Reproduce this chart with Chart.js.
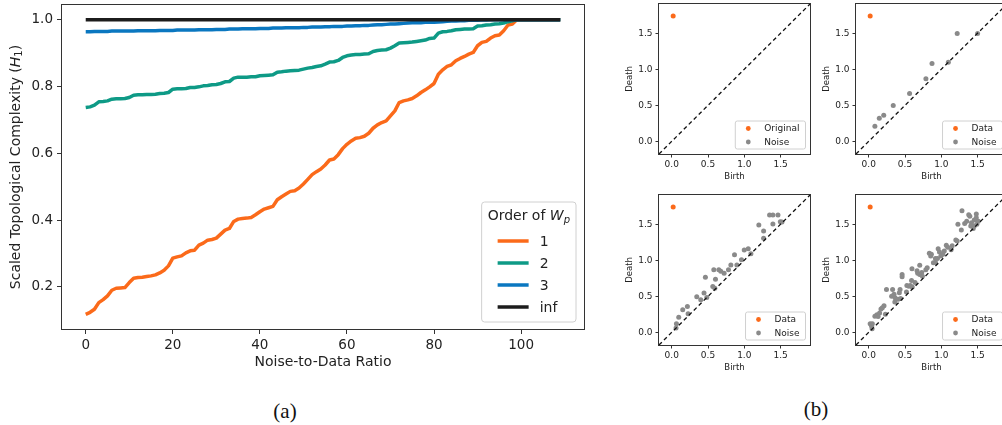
<!DOCTYPE html>
<html>
<head>
<meta charset="utf-8">
<script src="https://cdn.jsdelivr.net/npm/chart.js@4.4.1/dist/chart.umd.min.js"></script>
<style>
  html, body { margin: 0; padding: 0; background: #fff; width: 1002px; height: 425px; overflow: hidden; position: relative; }
  canvas { position: absolute; }
  .cap { position: absolute; font-family: "Liberation Serif", "DejaVu Serif", serif; font-size: 21px; color: #111; transform: translate(-50%, -50%); }
</style>
</head>
<body>
<canvas id="chartMain" width="600" height="375" style="left:0;top:0"></canvas>
<canvas id="pd1" width="195" height="184" style="left:619px;top:0"></canvas>
<canvas id="pd2" width="195" height="184" style="left:816px;top:0"></canvas>
<canvas id="pd3" width="195" height="184" style="left:619px;top:191px"></canvas>
<canvas id="pd4" width="195" height="184" style="left:816px;top:191px"></canvas>
<div class="cap" style="left:285px;top:411px">(a)</div>
<div class="cap" style="left:816px;top:409px">(b)</div>

<script>
// ── colours / fonts ───────────────────────────────────────
const COLORS = {
  w1:    '#fb6a1a',
  w2:    '#0e9a86',
  w3:    '#0a77c0',
  inf:   '#1c1c1c',
  noise: '#8a8a8a',
  frame: '#333333',
  text:  '#222222',
};
const FONT = '"DejaVu Sans", sans-serif';

// ── panel (a) data: scaled complexity vs noise-to-data ratio ──
const ORDER_LABELS = ['1', '2', '3', 'inf'];
const RATIO_TICKS = [0, 20, 40, 60, 80, 100];
const COMPLEXITY_TICKS = [0.2, 0.4, 0.6, 0.8, 1.0];

const W1 = [
  0.118, 0.124, 0.133, 0.153, 0.162, 0.173, 0.190, 0.196, 0.197, 0.198,
  0.213, 0.226, 0.228, 0.229, 0.231, 0.233, 0.236, 0.242, 0.250, 0.263,
  0.286, 0.290, 0.293, 0.302, 0.308, 0.310, 0.325, 0.331, 0.340, 0.342,
  0.346, 0.358, 0.370, 0.375, 0.396, 0.403, 0.405, 0.406, 0.408, 0.416,
  0.425, 0.433, 0.437, 0.441, 0.461, 0.470, 0.478, 0.486, 0.488, 0.496,
  0.508, 0.522, 0.536, 0.545, 0.553, 0.565, 0.580, 0.583, 0.596, 0.614,
  0.627, 0.637, 0.645, 0.647, 0.651, 0.660, 0.675, 0.685, 0.692, 0.697,
  0.712, 0.727, 0.752, 0.757, 0.760, 0.764, 0.772, 0.782, 0.790, 0.799,
  0.809, 0.837, 0.850, 0.860, 0.865, 0.877, 0.884, 0.890, 0.897, 0.902,
  0.922, 0.932, 0.935, 0.945, 0.952, 0.954, 0.967, 0.984, 0.987, 1.000,
  1, 1, 1, 1, 1, 1, 1, 1, 1, 1,
];
const W2 = [
  0.737, 0.739, 0.744, 0.754, 0.755, 0.757, 0.762, 0.763, 0.763, 0.764,
  0.767, 0.774, 0.775, 0.775, 0.776, 0.776, 0.777, 0.779, 0.780, 0.782,
  0.792, 0.793, 0.793, 0.794, 0.797, 0.797, 0.799, 0.802, 0.803, 0.805,
  0.806, 0.809, 0.814, 0.815, 0.825, 0.828, 0.828, 0.828, 0.829, 0.829,
  0.832, 0.833, 0.834, 0.835, 0.843, 0.844, 0.846, 0.847, 0.848, 0.849,
  0.852, 0.855, 0.857, 0.860, 0.862, 0.867, 0.873, 0.874, 0.878, 0.887,
  0.892, 0.894, 0.896, 0.896, 0.897, 0.898, 0.905, 0.908, 0.909, 0.910,
  0.915, 0.922, 0.930, 0.931, 0.932, 0.933, 0.935, 0.937, 0.939, 0.944,
  0.945, 0.960, 0.964, 0.965, 0.967, 0.970, 0.971, 0.972, 0.972, 0.973,
  0.981, 0.982, 0.984, 0.985, 0.987, 0.988, 0.990, 0.994, 0.997, 1.000,
  1, 1, 1, 1, 1, 1, 1, 1, 1, 1,
];
const W3 = [
  0.964, 0.964, 0.965, 0.965, 0.965, 0.965, 0.966, 0.966, 0.966, 0.966,
  0.966, 0.966, 0.967, 0.967, 0.967, 0.967, 0.967, 0.968, 0.968, 0.968,
  0.968, 0.969, 0.969, 0.969, 0.969, 0.969, 0.970, 0.970, 0.970, 0.970,
  0.971, 0.971, 0.971, 0.972, 0.972, 0.972, 0.973, 0.973, 0.973, 0.973,
  0.974, 0.974, 0.974, 0.975, 0.975, 0.975, 0.976, 0.976, 0.976, 0.976,
  0.977, 0.977, 0.978, 0.978, 0.978, 0.979, 0.979, 0.980, 0.980, 0.980,
  0.981, 0.981, 0.982, 0.982, 0.983, 0.983, 0.984, 0.985, 0.985, 0.986,
  0.987, 0.987, 0.988, 0.989, 0.990, 0.991, 0.991, 0.991, 0.992, 0.992,
  0.992, 0.993, 0.994, 0.995, 0.996, 0.996, 0.997, 0.997, 0.998, 0.998,
  0.998, 0.999, 0.999, 1.000, 1.000, 1.000, 1.000, 1.000, 1.000, 1.000,
  1, 1, 1, 1, 1, 1, 1, 1, 1, 1,
];
const WINF = [
  1, 1, 1, 1, 1, 1, 1, 1, 1, 1,
  1, 1, 1, 1, 1, 1, 1, 1, 1, 1,
  1, 1, 1, 1, 1, 1, 1, 1, 1, 1,
  1, 1, 1, 1, 1, 1, 1, 1, 1, 1,
  1, 1, 1, 1, 1, 1, 1, 1, 1, 1,
  1, 1, 1, 1, 1, 1, 1, 1, 1, 1,
  1, 1, 1, 1, 1, 1, 1, 1, 1, 1,
  1, 1, 1, 1, 1, 1, 1, 1, 1, 1,
  1, 1, 1, 1, 1, 1, 1, 1, 1, 1,
  1, 1, 1, 1, 1, 1, 1, 1, 1, 1,
  1, 1, 1, 1, 1, 1, 1, 1, 1, 1,
];

// ── panel (b) data: persistence diagrams ──────────────────
const DIAG_TICKS = [0, 0.5, 1.0, 1.5];
const DIAG_RANGE = [-0.175, 1.905];
const ORIG_BIRTH = [0.02];
const ORIG_DEATH = [1.74];

const NOISE1_BIRTH = [];
const NOISE1_DEATH = [];

const NOISE2_BIRTH = [0.085, 0.146, 0.207, 0.338, 0.563, 0.788, 0.872, 1.097, 1.219, 1.500];
const NOISE2_DEATH = [0.210, 0.320, 0.364, 0.498, 0.665, 0.867, 1.080, 1.098, 1.496, 1.496];

const NOISE3_BIRTH = [
  0.06, 0.065, 0.097, 0.152, 0.216, 0.226, 0.345, 0.40, 0.445, 0.464,
  0.483, 0.566, 0.58, 0.603, 0.594, 0.649, 0.676, 0.722, 0.782, 0.815,
  0.865, 0.898, 0.961, 0.999, 1.054, 1.091, 1.2, 1.266, 1.266, 1.348,
  1.394, 1.394, 1.464, 1.496, 1.519,
];
const NOISE3_DEATH = [
  0.06, 0.12, 0.21, 0.314, 0.36, 0.259, 0.494, 0.452, 0.545, 0.766,
  0.485, 0.636, 0.867, 0.738, 0.613, 0.867, 0.849, 0.82, 0.867, 0.936,
  1.075, 0.936, 1.006, 1.144, 1.158, 1.09, 1.49, 1.406, 1.305, 1.628,
  1.628, 1.503, 1.628, 1.535, 1.53,
];

const NOISE4_BIRTH = [
  0.02, 0.04, 0.05, 0.047, 0.085, 0.113, 0.15, 0.169, 0.211, 0.188,
  0.23, 0.245, 0.329, 0.316, 0.363, 0.349, 0.422, 0.432, 0.404, 0.44,
  0.46, 0.46, 0.526, 0.554, 0.573, 0.596, 0.59, 0.60, 0.638, 0.666,
  0.675, 0.703, 0.703, 0.731, 0.787, 0.806, 0.835, 0.863, 0.854, 0.891,
  0.919, 0.947, 0.957, 0.975, 0.994, 1.022, 1.041, 1.069, 1.088, 1.135,
  1.219, 1.229, 1.276, 1.285, 1.322, 1.35, 1.378, 1.393, 1.416, 1.454,
  1.482, 1.482, 1.49, 1.51, 1.454, 1.406, 1.44, 0.36, 0.52, 0.74,
  0.92, 1.15, 1.2, 0.13,
];
const NOISE4_DEATH = [
  0.12, 0.084, 0.12, 0.05, 0.223, 0.246, 0.27, 0.325, 0.37, 0.34,
  0.25, 0.595, 0.595, 0.502, 0.48, 0.53, 0.548, 0.595, 0.46, 0.47,
  0.804, 0.77, 0.65, 0.64, 0.65, 0.883, 0.72, 0.63, 0.69, 0.855,
  0.82, 0.93, 0.804, 0.83, 0.87, 0.895, 1.096, 1.082, 1.06, 0.967,
  1.023, 1.023, 1.161, 1.115, 1.06, 1.082, 1.13, 1.208, 1.18, 1.147,
  1.268, 1.5, 1.42, 1.686, 1.51, 1.54, 1.63, 1.61, 1.52, 1.56,
  1.64, 1.59, 1.5, 1.54, 1.475, 1.475, 1.44, 0.42, 0.56, 0.78,
  0.97, 1.2, 1.28, 0.22,
];

// ── helpers ───────────────────────────────────────────────
function toPoints(ys) {
  return ys.map((y, i) => ({ x: i, y }));
}
function pairPoints(xs, ys) {
  return xs.map((x, i) => ({ x, y: ys[i] }));
}
function fixedTicks(values) {
  return scale => { scale.ticks = values.map(v => ({ value: v })); };
}

// draw text made of several runs (italic / subscript) centred on x,y
function drawRich(ctx, parts, x, y, rot) {
  ctx.save();
  ctx.translate(x, y);
  ctx.rotate(rot);
  ctx.fillStyle = COLORS.text;
  ctx.textAlign = 'left';
  ctx.textBaseline = 'middle';
  let w = 0;
  parts.forEach(p => { ctx.font = p.f; p.w = ctx.measureText(p.t).width; w += p.w; });
  let cx = -w / 2;
  parts.forEach(p => { ctx.font = p.f; ctx.fillText(p.t, cx, p.dy); cx += p.w; });
  ctx.restore();
  return w;
}
function measureRich(ctx, parts) {
  ctx.save();
  let w = 0;
  parts.forEach(p => { ctx.font = p.f; w += ctx.measureText(p.t).width; });
  ctx.restore();
  return w;
}
function roundBox(ctx, x, y, w, h, r) {
  ctx.beginPath();
  ctx.moveTo(x + r, y);
  ctx.arcTo(x + w, y, x + w, y + h, r);
  ctx.arcTo(x + w, y + h, x, y + h, r);
  ctx.arcTo(x, y + h, x, y, r);
  ctx.arcTo(x, y, x + w, y, r);
  ctx.closePath();
  ctx.fillStyle = 'rgba(255,255,255,0.85)';
  ctx.fill();
  ctx.strokeStyle = '#d0d0d0';
  ctx.lineWidth = 1;
  ctx.stroke();
}

// matplotlib-like box round the plot area
const framePlugin = {
  id: 'frame',
  afterDatasetsDraw(chart) {
    const { ctx, chartArea: a } = chart;
    ctx.save();
    ctx.strokeStyle = COLORS.frame;
    ctx.lineWidth = 1;
    ctx.strokeRect(Math.round(a.left) - 0.5, Math.round(a.top) - 0.5,
                   Math.round(a.right - a.left) + 1, Math.round(a.bottom - a.top) + 1);
    ctx.restore();
  },
};

// y title with italic H and subscript 1
const yTitlePlugin = {
  id: 'yTitle',
  afterDraw(chart) {
    const { ctx, chartArea: a } = chart;
    drawRich(ctx, [
      { t: 'Scaled Topological Complexity (', f: `14px ${FONT}`, dy: 0 },
      { t: 'H', f: `italic 14px ${FONT}`, dy: 0 },
      { t: '1', f: `10px ${FONT}`, dy: 3 },
      { t: ')', f: `14px ${FONT}`, dy: 0 },
    ], 16, (a.top + a.bottom) / 2, -Math.PI / 2);
  },
};

// legend box "Order of W_p" in lower right
const orderLegend = {
  id: 'orderLegend',
  afterDraw(chart) {
    const { ctx, chartArea: a } = chart;
    const title = [
      { t: 'Order of ', f: `14px ${FONT}`, dy: 0 },
      { t: 'W', f: `italic 14px ${FONT}`, dy: 0 },
      { t: 'p', f: `italic 10px ${FONT}`, dy: 4 },
    ];
    const w = measureRich(ctx, title) + 12;
    const h = 120;
    const x0 = a.right - 8 - w;
    const y0 = a.bottom - 7 - h;
    ctx.save();
    roundBox(ctx, x0, y0, w, h, 3);
    drawRich(ctx, title, x0 + w / 2, y0 + 14, 0);
    ctx.font = `14px ${FONT}`;
    ctx.textBaseline = 'middle';
    ctx.textAlign = 'left';
    chart.data.datasets.forEach((ds, i) => {
      const yy = y0 + 39 + i * 22;
      ctx.strokeStyle = ds.borderColor;
      ctx.lineWidth = ds.borderWidth;
      ctx.beginPath();
      ctx.moveTo(x0 + 16, yy);
      ctx.lineTo(x0 + 47, yy);
      ctx.stroke();
      ctx.fillStyle = COLORS.text;
      ctx.fillText(ds.label, x0 + 58, yy + 1);
    });
    ctx.restore();
  },
};

// small legend for the persistence diagrams
const pdLegend = {
  id: 'pdLegend',
  afterDraw(chart) {
    const { ctx, chartArea: a } = chart;
    const items = chart.data.datasets.filter(d => !d.showLine);
    ctx.save();
    ctx.font = `9px ${FONT}`;
    const tw = Math.max(...items.map(d => ctx.measureText(d.label).width));
    const w = 29 + tw + 6;
    const h = 28;
    const x0 = a.right - 4.5 - w;
    const y0 = a.bottom - 5 - h;
    roundBox(ctx, x0, y0, w, h, 2);
    ctx.font = `9px ${FONT}`;
    ctx.textBaseline = 'middle';
    ctx.textAlign = 'left';
    items.forEach((d, i) => {
      const yy = y0 + 7.5 + i * 13.5;
      ctx.fillStyle = d.backgroundColor;
      ctx.beginPath();
      ctx.arc(x0 + 13, yy, 2.4, 0, Math.PI * 2);
      ctx.fill();
      ctx.fillStyle = COLORS.text;
      ctx.fillText(d.label, x0 + 29, yy + 0.5);
    });
    ctx.restore();
  },
};

// ── panel (a) line chart ─────────────────────────────────
function renderComplexityChart() {
  const series = [W1, W2, W3, WINF];
  const colors = [COLORS.w1, COLORS.w2, COLORS.w3, COLORS.inf];
  const tickFont = { family: FONT, size: 13.5 };

  new Chart(document.getElementById('chartMain'), {
    type: 'line',
    data: {
      datasets: series.map((ys, i) => ({
        label: ORDER_LABELS[i],
        data: toPoints(ys),
        borderColor: colors[i],
        borderWidth: 3.5,
        pointRadius: 0,
        tension: 0,
        borderJoinStyle: 'round',
        order: series.length - i,
      })),
    },
    options: {
      responsive: false,
      animation: false,
      layout: { padding: { top: 5, right: 16, left: 0, bottom: 0 } },
      plugins: { legend: { display: false }, tooltip: { enabled: false } },
      scales: {
        x: {
          type: 'linear',
          min: -5.45, max: 114.45,
          afterBuildTicks: fixedTicks(RATIO_TICKS),
          afterFit: s => { s.height = 46; s.paddingLeft = 0; s.paddingRight = 0; },
          grid: { drawOnChartArea: false, color: COLORS.frame, tickLength: 5 },
          border: { display: false },
          ticks: { font: tickFont, color: COLORS.text, padding: 3, autoSkip: false, maxRotation: 0 },
          title: {
            display: true, text: 'Noise-to-Data Ratio',
            font: { family: FONT, size: 14 }, color: COLORS.text,
            padding: { top: 0, bottom: 4 },
          },
        },
        y: {
          min: 0.074, max: 1.044,
          afterBuildTicks: fixedTicks(COMPLEXITY_TICKS),
          afterFit: s => { s.width = 62; s.paddingTop = 0; s.paddingBottom = 0; },
          grid: { drawOnChartArea: false, color: COLORS.frame, tickLength: 5 },
          border: { display: false },
          ticks: { font: tickFont, color: COLORS.text, padding: 4, callback: v => v.toFixed(1) },
        },
      },
    },
    plugins: [framePlugin, yTitlePlugin, orderLegend],
  });
}

// ── panel (b) persistence diagrams ───────────────────────
function renderDiagram(id, noiseBirth, noiseDeath, origLabel) {
  const tickFont = { family: FONT, size: 9 };
  const axisTitle = text => ({
    display: true, text,
    font: { family: FONT, size: 8.5 }, color: COLORS.text,
    padding: { top: 6, bottom: 2 },
  });

  new Chart(document.getElementById(id), {
    type: 'scatter',
    data: {
      datasets: [
        { label: origLabel, data: pairPoints(ORIG_BIRTH, ORIG_DEATH),
          backgroundColor: COLORS.w1, pointRadius: 2.5, borderWidth: 0, order: 0 },
        { label: 'diag', data: pairPoints(DIAG_RANGE, DIAG_RANGE), showLine: true,
          borderColor: '#111', borderWidth: 1.3, borderDash: [4, 3], pointRadius: 0, order: 1 },
        { label: 'Noise', data: pairPoints(noiseBirth, noiseDeath),
          backgroundColor: COLORS.noise, pointRadius: 2.5, borderWidth: 0, order: 2 },
      ],
    },
    options: {
      responsive: false,
      animation: false,
      layout: { padding: { top: 4, right: 4, left: 0, bottom: 0 } },
      plugins: { legend: { display: false }, tooltip: { enabled: false } },
      scales: {
        x: {
          min: DIAG_RANGE[0], max: DIAG_RANGE[1],
          afterBuildTicks: fixedTicks(DIAG_TICKS),
          afterFit: s => { s.height = 30; s.paddingLeft = 0; s.paddingRight = 0; },
          grid: { drawOnChartArea: false, color: COLORS.frame, tickLength: 3.5 },
          border: { display: false },
          ticks: { font: tickFont, color: COLORS.text, padding: 2, autoSkip: false, maxRotation: 0,
                   callback: v => v.toFixed(1) },
          title: { ...axisTitle('Birth'), padding: { top: 0, bottom: 2 } },
        },
        y: {
          min: DIAG_RANGE[0], max: DIAG_RANGE[1],
          afterBuildTicks: fixedTicks(DIAG_TICKS),
          afterFit: s => { s.width = 40; s.paddingTop = 0; s.paddingBottom = 0; },
          grid: { drawOnChartArea: false, color: COLORS.frame, tickLength: 3.5 },
          border: { display: false },
          ticks: { font: tickFont, color: COLORS.text, padding: 3, autoSkip: false,
                   callback: v => v.toFixed(1) },
          title: axisTitle('Death'),
        },
      },
    },
    plugins: [framePlugin, pdLegend],
  });
}

renderComplexityChart();
renderDiagram('pd1', NOISE1_BIRTH, NOISE1_DEATH, 'Original');
renderDiagram('pd2', NOISE2_BIRTH, NOISE2_DEATH, 'Data');
renderDiagram('pd3', NOISE3_BIRTH, NOISE3_DEATH, 'Data');
renderDiagram('pd4', NOISE4_BIRTH, NOISE4_DEATH, 'Data');
</script>
</body>
</html>
